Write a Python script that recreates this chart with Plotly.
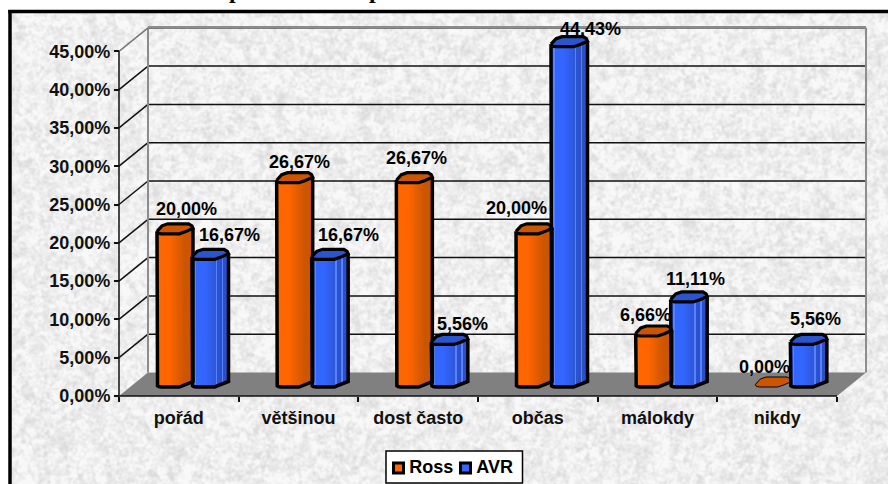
import base64
import struct
import zlib

import numpy as np
import plotly.graph_objects as go

# Survey answers, in percent
categories = ["pořád", "většinou", "dost často", "občas", "málokdy", "nikdy"]
ross_values = [20.00, 26.67, 26.67, 20.00, 6.66, 0.00]
avr_values = [16.67, 16.67, 5.56, 44.43, 11.11, 5.56]
y_ticks = [0, 5, 10, 15, 20, 25, 30, 35, 40, 45]

# Page geometry
W, H = 888, 484
X0_PX, CAT_PX = 119.0, 119.67   # left end of the front axis, width of one category
Y0_PX, UNIT_PX = 396.0, 7.66    # zero line, pixels per percentage point
DEPTH_X = 29 / CAT_PX           # how far the back wall is shifted sideways
DEPTH_Y = 23.5 / UNIT_PX        # and upwards
LIFT = 9 / UNIT_PX              # columns stand in the middle of the floor
N_STRIPS = 24


def cx(px):
    return (px - X0_PX) / CAT_PX


def cy(px):
    return (Y0_PX - px) / UNIT_PX


def percent(v):
    return f"{v:.2f}".replace(".", ",") + "%"


def paper_texture(w, h):
    """Mottled light grey paper, from a deterministic coordinate hash."""
    yy, xx = np.mgrid[0:h, 0:w].astype(float)
    n = np.sin(xx * 12.9898 + yy * 78.233) * 43758.5453
    n = n - np.floor(n)
    spec = np.fft.fft2(n - n.mean())
    fy = np.fft.fftfreq(h)[:, None]
    fx = np.fft.fftfreq(w)[None, :]
    fine = np.fft.ifft2(spec * np.exp(-((fx * 5) ** 2 + (fy * 5) ** 2))).real
    wide = np.fft.ifft2(spec * np.exp(-((fx * 16) ** 2 + (fy * 16) ** 2))).real
    v = fine / fine.std() + 0.4 * wide / wide.std()
    img = 239 + 5.5 * np.clip(v, -3.2, 1.7)
    return np.clip(img, 0, 255).astype(np.uint8)


def png_uri(gray):
    h, w = gray.shape
    raw = b"".join(b"\x00" + gray[r].tobytes() for r in range(h))

    def chunk(tag, data):
        body = tag + data
        return struct.pack(">I", len(data)) + body + struct.pack(">I", zlib.crc32(body))

    data = b"\x89PNG\r\n\x1a\n"
    data += chunk(b"IHDR", struct.pack(">IIBBBBB", w, h, 8, 0, 0, 0, 0))
    data += chunk(b"IDAT", zlib.compress(raw, 9))
    data += chunk(b"IEND", b"")
    return "data:image/png;base64," + base64.b64encode(data).decode()


def lerp_hex(a, b, t):
    ca = [int(a[i:i + 2], 16) for i in (1, 3, 5)]
    cb = [int(b[i:i + 2], 16) for i in (1, 3, 5)]
    return "#" + "".join(f"{round(p + (q - p) * t):02x}" for p, q in zip(ca, cb))


# Horizontal cross-section of a column: front and back edge, pixels above the lowest point
FRONT_T = [0, 0.015, 0.05, 0.12, 0.62, 0.8, 1]
FRONT_PX = [2.5, 1.2, 0.4, 0, 0, 2.2, 5.5]
BACK_T = [1, 0.97, 0.88, 0.3, 0.14, 0.05, 0]
BACK_PX = [5.5, 8, 10, 10, 8, 5, 2.5]

SERIES = [
    dict(name="Ross", values=ross_values, left=157 - 119.0, width=36.0, fill="#ff6600",
         shade="#cc5500", cap="#cc5500", glints=[]),
    dict(name="AVR", values=avr_values, left=192 - 119.0, width=36.5, fill="#3366ff",
         shade="#2a50c8", cap="#2a55cc", glints=[0.12, 0.7, 0.85]),
]


def strip_color(s, t):
    for g in s["glints"]:
        if abs(t - g) < 0.5 / N_STRIPS:
            return lerp_hex(s["fill"], "#9ab4ff", 0.35)
    if t < 0.35:
        return s["fill"]
    return lerp_hex(s["fill"], s["shade"], min(1, (t - 0.35) / 0.45))


fig = go.Figure()

# Column bodies, built from narrow bars to give the rounded shading
for s in SERIES:
    w = s["width"] / CAT_PX
    off = s["left"] / CAT_PX
    for k in range(N_STRIPS):
        t = (k + 0.5) / N_STRIPS
        lift = LIFT + np.interp(t, FRONT_T, FRONT_PX) / UNIT_PX
        fig.add_trace(go.Bar(
            x=[i + off + w * t for i in range(len(categories))],
            y=s["values"],
            base=[lift] * len(categories),
            width=w / N_STRIPS * 1.15,
            marker=dict(color=strip_color(s, t), line=dict(width=0)),
            hoverinfo="skip", showlegend=False,
        ))

# Column outlines and top caps, Ross first in each group so AVR overlaps it
for i in range(len(categories)):
    for s in SERIES:
        v = s["values"][i]
        w = s["width"] / CAT_PX
        off = s["left"] / CAT_PX
        fx = [i + off + w * t for t in FRONT_T]
        bx = [i + off + w * t for t in BACK_T]
        low = [LIFT + p / UNIT_PX for p in FRONT_PX]
        if v > 0:
            ox = [fx[0]] + fx + [fx[-1]]
            oy = [low[0] + v] + low + [low[-1] + v]
            fig.add_trace(go.Scatter(
                x=ox, y=oy, mode="lines", line=dict(color="black", width=3.5),
                hoverinfo="skip", showlegend=False,
            ))
        cap_y = [LIFT + v + p / UNIT_PX for p in FRONT_PX + BACK_PX]
        fig.add_trace(go.Scatter(
            x=fx + bx, y=cap_y, mode="lines", fill="toself", fillcolor=s["cap"],
            line=dict(color="black", width=3.2 if v > 0 else 1),
            hoverinfo="skip", showlegend=False,
        ))

# Legend box contents
for name, color, swatch_px in (("Ross", "#ff6600", 398.5), ("AVR", "#3366ff", 465.5)):
    fig.add_trace(go.Scatter(
        x=[cx(swatch_px)], y=[cy(468)], mode="markers+text", name=name,
        marker=dict(symbol="square", size=10, color=color, line=dict(color="black", width=3)),
        text=[f"<b>\u2009{name}</b>"], textposition="middle right",
        textfont=dict(family="Liberation Sans, Arial", size=18, color="black"),
        hoverinfo="skip", showlegend=False,
    ))

# Walls, floor and gridlines
top_back = max(y_ticks) + DEPTH_Y
x_end = len(categories)
GREY = "#808080"
INK = "#111111"
shapes = [
    dict(type="path", layer="below", xref="x", yref="y", line=dict(width=0), fillcolor=GREY,
         path=f"M0,0 L{DEPTH_X},{DEPTH_Y} L{x_end + DEPTH_X},{DEPTH_Y} L{x_end},0 Z"),
]
for v in y_ticks:
    back = v + DEPTH_Y
    if v > 0:
        shapes.append(dict(type="line", layer="below", xref="x", yref="y", x0=DEPTH_X, x1=x_end + DEPTH_X,
                           y0=back, y1=back, line=dict(color=INK, width=1.5)))
        if v < max(y_ticks):
            shapes.append(dict(type="line", layer="below", xref="x", yref="y", x0=0, x1=DEPTH_X,
                               y0=v, y1=back, line=dict(color=INK, width=1.5)))
shapes += [
    dict(type="line", layer="below", xref="x", yref="y", x0=DEPTH_X, x1=DEPTH_X, y0=DEPTH_Y, y1=top_back,
         line=dict(color="#8c8c8c", width=2)),
    dict(type="line", layer="below", xref="x", yref="y", x0=x_end + DEPTH_X, x1=x_end + DEPTH_X,
         y0=DEPTH_Y, y1=top_back, line=dict(color="#8c8c8c", width=2)),
    dict(type="line", layer="below", xref="x", yref="y", x0=DEPTH_X, x1=x_end + DEPTH_X,
         y0=top_back + 0.12, y1=top_back + 0.12, line=dict(color="#8c8c8c", width=2)),
    dict(type="line", layer="below", xref="x", yref="y", x0=0, x1=DEPTH_X,
         y0=max(y_ticks), y1=top_back, line=dict(color="#777777", width=1.5)),
    dict(type="line", layer="below", xref="x", yref="y", x0=0, x1=0, y0=0, y1=max(y_ticks),
         line=dict(color=INK, width=1.5)),
    dict(type="line", layer="below", xref="x", yref="y", x0=0, x1=x_end, y0=0, y1=0,
         line=dict(color=INK, width=1.5)),
    # Outer frame
    dict(type="line", layer="below", xref="paper", yref="paper", x0=10 / W, x1=10 / W, y0=0, y1=1 - 10 / H,
         line=dict(color="black", width=3.5)),
    dict(type="line", layer="below", xref="paper", yref="paper", x0=8.3 / W, x1=1, y0=1 - 11.5 / H,
         y1=1 - 11.5 / H, line=dict(color="black", width=3.5)),
    # Legend frame
    dict(type="rect", layer="below", xref="paper", yref="paper", x0=386 / W, x1=522.5 / W,
         y0=1 - 483 / H, y1=1 - 451 / H, fillcolor="white", line=dict(color="black", width=1.5)),
]

# Value labels: horizontal and vertical nudges keep them clear of the neighbouring column
ROSS_SHIFT = [(11, 25), (5, 21), (2, 25), (-18, 26), (-8, 21), (-9, 20)]
AVR_SHIFT = [(19, 24), (19, 24), (13, 20), (21, 18), (7, 23), (7, 25)]
annotations = []
for s, shifts in zip(SERIES, (ROSS_SHIFT, AVR_SHIFT)):
    centre = (s["left"] + s["width"] / 2) / CAT_PX
    for i, v in enumerate(s["values"]):
        annotations.append(dict(
            x=i + centre, y=LIFT + v, xref="x", yref="y",
            text=f"<b>{percent(v)}</b>", showarrow=False,
            xanchor="center", yanchor="middle", xshift=shifts[i][0], yshift=shifts[i][1],
            font=dict(family="Liberation Sans, Arial", size=18, color="black"),
        ))

# Descenders of the heading line that runs off the top of the page
for px in (235, 375):
    annotations.append(dict(
        x=px / W, y=1, xref="paper", yref="paper", text="<b>p</b>", showarrow=False,
        xanchor="center", yanchor="bottom", yshift=-5,
        font=dict(family="Liberation Serif", size=24, color="black"),
    ))

tick_font = dict(family="Liberation Sans, Arial", size=18, color="#111111", weight=700)

fig.update_layout(
    width=W, height=H, margin=dict(l=0, r=0, t=0, b=0, pad=0), autosize=False,
    paper_bgcolor="white", plot_bgcolor="rgba(0,0,0,0)",
    barmode="overlay", bargap=0, showlegend=False,
    shapes=shapes, annotations=annotations,
    images=[dict(
        source=png_uri(paper_texture(W - 12, H - 13)), xref="paper", yref="paper",
        x=12 / W, y=1 - 13 / H, sizex=(W - 12) / W, sizey=(H - 13) / H,
        sizing="stretch", xanchor="left", yanchor="top", layer="below",
    )],
    xaxis=dict(
        range=[cx(0), cx(W)], domain=[0, 1], anchor="free", position=(H - Y0_PX) / H,
        showgrid=False, zeroline=False, showline=False, fixedrange=True,
        tickmode="array", tickvals=[i + 0.5 for i in range(len(categories))], ticktext=categories,
        ticks="", ticklabelstandoff=9, tickfont=tick_font,
        minor=dict(tickmode="array", tickvals=list(range(len(categories) + 1)), ticks="outside",
                   ticklen=5, tickwidth=1.5, tickcolor=INK, showgrid=False),
    ),
    yaxis=dict(
        range=[cy(H), cy(0)], domain=[0, 1], anchor="free", position=X0_PX / W,
        showgrid=False, zeroline=False, showline=False, fixedrange=True,
        tickmode="array", tickvals=y_ticks, ticktext=[percent(v) for v in y_ticks],
        ticks="outside", ticklen=5, tickwidth=1.5, tickcolor=INK, tickfont=tick_font,
    ),
)

fig.write_html("out.html", config=dict(displayModeBar=False))
